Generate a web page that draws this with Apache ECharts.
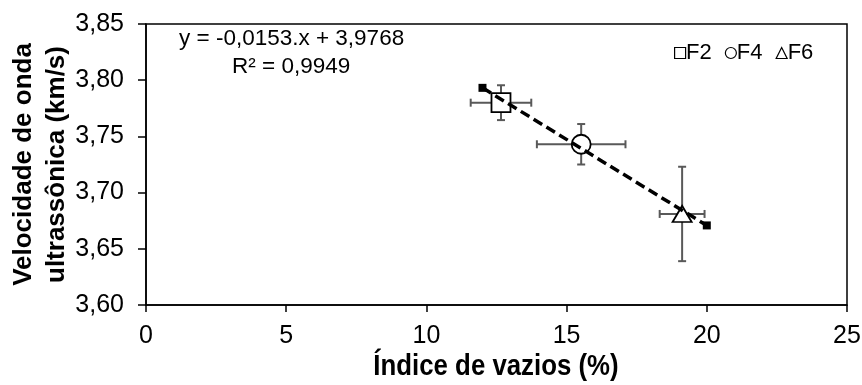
<!DOCTYPE html>
<html>
<head>
<meta charset="utf-8">
<script src="https://cdn.jsdelivr.net/npm/echarts@6/dist/echarts.min.js"></script>
<style>
  html, body { margin: 0; padding: 0; background: #fff; }
  #chart { width: 862px; height: 385px; }
</style>
</head>
<body>
<div id="chart"></div>
<script>
// Mix groups with mean void index, mean ultrasonic pulse velocity and their deviations
const groups = ['F2', 'F4', 'F6'];
const groupSymbols = ['rect', 'circle', 'triangle'];
const voidIndex = [12.66, 15.52, 19.12];
const voidIndexErr = [1.08, 1.58, 0.80];
const velocity = [3.780, 3.743, 3.681];
const velocityErr = [0.0155, 0.018, 0.042];

// Linear fit shown on the chart
const fitSlope = -0.0153;
const fitIntercept = 3.9768;
const fitR2 = 0.9949;
const fitRangeX = [12, 20];

const xTicks = { min: 0, max: 25, interval: 5 };
const yTicks = { min: 3.60, max: 3.85, interval: 0.05 };

const FONT = '"Liberation Sans", Arial, sans-serif';
const comma = (v, d) => v.toFixed(d).replace('.', ',');

const chart = echarts.init(document.getElementById('chart'), null, { renderer: 'canvas' });

const errorData = groups.map((g, i) => [voidIndex[i], velocity[i], voidIndexErr[i], velocityErr[i]]);

function renderErrorBars(params, api) {
  const x = api.value(0), y = api.value(1);
  const dx = api.value(2), dy = api.value(3);
  const left = api.coord([x - dx, y]);
  const right = api.coord([x + dx, y]);
  const top = api.coord([x, y + dy]);
  const bottom = api.coord([x, y - dy]);
  const cap = 4;
  const style = { stroke: '#595959', lineWidth: 2 };
  const seg = (x1, y1, x2, y2) => ({ type: 'line', shape: { x1, y1, x2, y2 }, style });
  return {
    type: 'group',
    children: [
      seg(left[0], left[1], right[0], right[1]),
      seg(left[0], left[1] - cap, left[0], left[1] + cap),
      seg(right[0], right[1] - cap, right[0], right[1] + cap),
      seg(top[0], top[1], bottom[0], bottom[1]),
      seg(top[0] - cap, top[1], top[0] + cap, top[1]),
      seg(bottom[0] - cap, bottom[1], bottom[0] + cap, bottom[1])
    ]
  };
}

const markerSeries = groups.map((g, i) => ({
  name: g,
  type: 'scatter',
  symbol: groupSymbols[i],
  symbolSize: groupSymbols[i] === 'triangle' ? [19, 16] : 19,
  itemStyle: { color: '#fff', borderColor: '#000', borderWidth: 1.8, opacity: 1 },
  data: [[voidIndex[i], velocity[i]]],
  z: 3,
  silent: true,
  animation: false
}));

const fitLine = fitRangeX.map(x => [x, fitSlope * x + fitIntercept]);

const option = {
  backgroundColor: '#fff',
  animation: false,
  textStyle: { fontFamily: FONT },
  grid: {
    left: 146, right: 15, top: 24, bottom: 80,
    outerBoundsMode: 'none',
    containLabel: false,
    show: true, borderColor: '#000', borderWidth: 1.5, backgroundColor: 'transparent'
  },
  legend: {
    data: groups.map((g, i) => ({ name: g, icon: groupSymbols[i] })),
    left: 669, top: 37,
    itemWidth: 11, itemHeight: 11, itemGap: 13,
    itemStyle: { color: '#fff', borderColor: '#000', borderWidth: 1.2 },
    textStyle: { fontSize: 22, color: '#000', fontFamily: FONT, padding: [0, 0, 0, -4.5] }
  },
  xAxis: {
    type: 'value',
    min: xTicks.min, max: xTicks.max, interval: xTicks.interval,
    axisLine: { show: true, lineStyle: { color: '#000', width: 1.5 } },
    axisTick: { show: true, inside: false, length: 7, lineStyle: { color: '#000', width: 1.5 } },
    axisLabel: { fontSize: 25, color: '#000', margin: 19, fontFamily: FONT },
    splitLine: { show: false }
  },
  yAxis: {
    type: 'value',
    min: yTicks.min, max: yTicks.max, interval: yTicks.interval,
    name: 'Velocidade de onda\nultrassônica (km/s)',
    nameLocation: 'middle', nameGap: 73,
    nameMoveOverlap: false,
    nameTextStyle: { fontSize: 26, fontWeight: 'bold', color: '#000', lineHeight: 33, fontFamily: FONT },
    axisLine: { show: true, lineStyle: { color: '#000', width: 1.5 } },
    axisTick: { show: true, inside: false, length: 8, lineStyle: { color: '#000', width: 1.5 } },
    axisLabel: { fontSize: 25, color: '#000', margin: 22, fontFamily: FONT,
      formatter: v => comma(v, 2) },
    splitLine: { show: false }
  },
  graphic: [
    {
      // x-axis title, set in a slightly condensed bold face
      type: 'text', x: 496, y: 367, scaleX: 0.89, z: 10,
      style: {
        text: 'Índice de vazios (%)',
        font: 'bold 29px ' + FONT, fill: '#000',
        align: 'center', verticalAlign: 'middle'
      }
    },
    {
      type: 'text', left: 179, top: 27, z: 10,
      style: {
        text: 'y = ' + comma(fitSlope, 4) + '.x + ' + comma(fitIntercept, 4),
        font: '22.5px ' + FONT, fill: '#000'
      }
    },
    {
      type: 'text', left: 232, top: 55, z: 10,
      style: {
        text: 'R² = ' + comma(fitR2, 4),
        font: '22.5px ' + FONT, fill: '#000'
      }
    }
  ],
  series: [
    {
      name: 'errors',
      type: 'custom',
      renderItem: renderErrorBars,
      encode: { x: 0, y: 1 },
      data: errorData,
      z: 2,
      silent: true
    },
    ...markerSeries,
    {
      name: 'fit',
      type: 'line',
      data: fitLine,
      symbol: 'rect',
      symbolSize: 8,
      showSymbol: true,
      itemStyle: { color: '#000' },
      lineStyle: { color: '#000', width: 3.5, type: [10, 5] },
      z: 4,
      silent: true
    }
  ]
};

chart.setOption(option);
</script>
</body>
</html>
